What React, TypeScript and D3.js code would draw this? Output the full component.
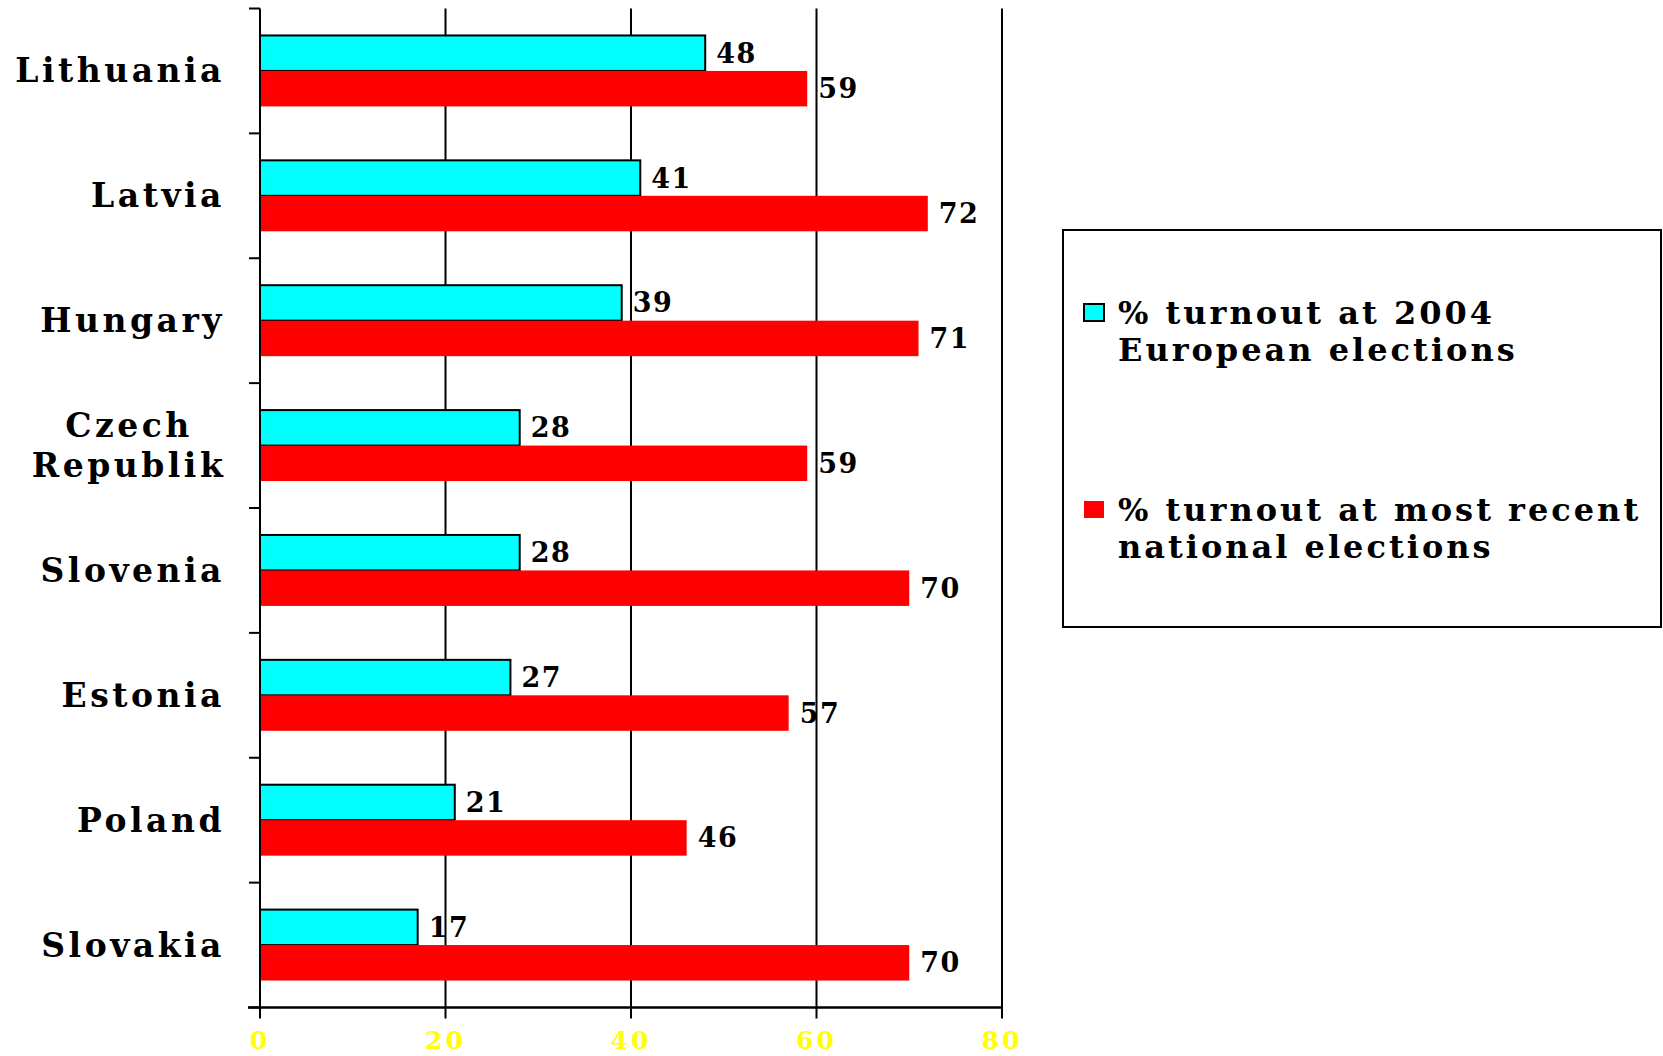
import React from "react";
import * as d3 from "d3";

const categories = ["Lithuania", "Latvia", "Hungary", "Czech Republik", "Slovenia", "Estonia", "Poland", "Slovakia"];
const categoryLines = [["Lithuania"], ["Latvia"], ["Hungary"], ["Czech", "Republik"], ["Slovenia"], ["Estonia"], ["Poland"], ["Slovakia"]];
const europeanTurnout = [48, 41, 39, 28, 28, 27, 21, 17];
const nationalTurnout = [59, 72, 71, 59, 70, 57, 46, 70];
const xTicks = [0, 20, 40, 60, 80];
const seriesKeys = ["european", "national"];
const seriesNames = [["% turnout at 2004", "European elections"], ["% turnout at most recent", "national elections"]];
const seriesColors = ["#00FFFF", "#FF0000"];

const W = 1663;
const H = 1056;
const M = { left: 260, right: 1002, top: 8.5, bottom: 1007.5 };
const FONT = "'DejaVu Serif', 'Liberation Serif', serif";

export default function App() {
  const x = d3.scaleLinear().domain([0, 80]).range([M.left, M.right]);
  const y = d3.scaleBand<string>().domain(categories).range([M.top, M.bottom]).padding(0);
  const sub = d3.scaleBand<string>().domain(seriesKeys).range([0, y.bandwidth()]).paddingInner(0).paddingOuter(0.76);
  const values = [europeanTurnout, nationalTurnout];
  const boundaries = d3.range(categories.length + 1).map((i) => M.top + i * y.step());

  return (
    <svg width={W} height={H} style={{ position: "absolute", left: 0, top: 0, background: "#fff" }} fontFamily={FONT}>
      {/* vertical gridlines */}
      {xTicks.slice(1).map((t) => (
        <line key={"g" + t} x1={x(t)} x2={x(t)} y1={M.top} y2={M.bottom + 11} stroke="#000" strokeWidth={2} />
      ))}
      {/* bars */}
      {categories.map((c, i) =>
        seriesKeys.map((k, s) => {
          const v = values[s][i];
          const by = (y(c) as number) + (sub(k) as number);
          const bh = sub.bandwidth();
          return (
            <g key={c + k}>
              <rect
                x={x(0)}
                y={by}
                width={x(v) - x(0)}
                height={bh}
                fill={seriesColors[s]}
                stroke={s === 0 ? "#000" : "none"}
                strokeWidth={s === 0 ? 2 : 0}
              />
              <text
                x={x(v) + 11}
                y={by + bh / 2}
                dy="0.35em"
                fontSize={27}
                fontWeight="bold"
                letterSpacing={1.5}
                fill="#000"
              >
                {v}
              </text>
            </g>
          );
        })
      )}
      {/* left axis */}
      <line x1={M.left} x2={M.left} y1={M.top} y2={M.bottom + 11} stroke="#000" strokeWidth={2} />
      {boundaries.map((b, i) => (
        <line key={"t" + i} x1={M.left - 11} x2={M.left} y1={b} y2={b} stroke="#000" strokeWidth={2} />
      ))}
      {/* bottom axis */}
      <line x1={M.left - 12} x2={M.right} y1={M.bottom} y2={M.bottom} stroke="#000" strokeWidth={2.5} />
      {xTicks.map((t) => (
        <text key={"xl" + t} x={x(t)} y={1049} textAnchor="middle" fontSize={25} fontWeight="bold" letterSpacing={3} fill="#FFFF00">
          {t}
        </text>
      ))}
      {/* category labels */}
      {categories.map((c, i) => {
        const lines = categoryLines[i];
        const cy = (y(c) as number) + y.bandwidth() / 2;
        const lh = 40;
        if (lines.length === 1) {
          return (
            <text key={"c" + c} x={225} y={cy} dy="0.35em" textAnchor="end" fontSize={33} fontWeight="bold" letterSpacing={3.5}>
              {c}
            </text>
          );
        }
        return (
          <text key={"c" + c} x={129} textAnchor="middle" fontSize={33} fontWeight="bold" letterSpacing={3.5}>
            {lines.map((l, j) => (
              <tspan key={j} x={129} y={cy + (j - (lines.length - 1) / 2) * lh} dy="0.35em">
                {l}
              </tspan>
            ))}
          </text>
        );
      })}
      {/* legend */}
      <rect x={1063} y={230} width={598} height={397} fill="#fff" stroke="#000" strokeWidth={2} />
      {seriesNames.map((lines, s) => {
        const top = s === 0 ? 313 : 510;
        return (
          <g key={"lg" + s}>
            <rect
              x={1084}
              y={top - 9}
              width={20}
              height={17}
              fill={seriesColors[s]}
              stroke={s === 0 ? "#000" : "none"}
              strokeWidth={2}
            />
            {lines.map((l, j) => (
              <text key={j} x={1118} y={top + j * 37} dy="0.35em" fontSize={32} fontWeight="bold" letterSpacing={3}>
                {l}
              </text>
            ))}
          </g>
        );
      })}
    </svg>
  );
}
